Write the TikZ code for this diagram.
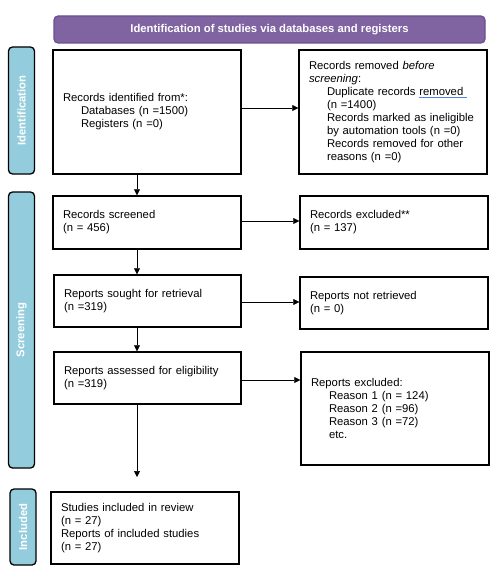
\documentclass[tikz,border=0pt]{standalone}
\usepackage{fontspec}
\setmainfont{Liberation Sans}
\usetikzlibrary{arrows.meta,calc}
\definecolor{bannerpurple}{HTML}{8064A2}
\definecolor{bannerline}{HTML}{6A5090}
\definecolor{sideblue}{HTML}{93CDDD}
\definecolor{spellblue}{HTML}{4F81E8}
\newcommand{\ind}{\hspace*{18pt}}
\newlength\spellw
\newcommand{\spellmark}[1]{\settowidth{\spellw}{#1}\rlap{\textcolor{spellblue}{\rule[-2.2pt]{\dimexpr\spellw+4pt\relax}{0.9pt}}}#1}
\begin{document}
\begin{tikzpicture}[x=1pt,y=-1pt,
  box/.style={draw=black,line width=1.4pt,fill=white,align=left,inner xsep=10pt,inner ysep=0pt,
    font=\fontsize{11.3}{13}\selectfont,anchor=center},
  sidebar/.style={draw=black,line width=1.3pt,fill=sideblue,rounded corners=4pt,
    minimum width=26pt,inner sep=0pt},
  sidetext/.style={rotate=90,text=white,font=\fontsize{11.3}{13}\selectfont\bfseries},
  arr/.style={-{Triangle[length=6pt,width=6pt]},line width=0.7pt}]
\useasboundingbox (0,0) rectangle (497,572);
% banner
\node[draw=bannerline,line width=1.2pt,fill=bannerpurple,rounded corners=4pt,minimum width=431pt,minimum height=27pt,
  text=white,font=\fontsize{11.3}{13}\selectfont\bfseries] (banner) at (269.5,29.5) {Identification of studies via databases and registers};
% side bars
\node[sidebar,minimum height=127pt] (sideid) at (21.5,110.5) {};
\node[sidetext] at (sideid) {Identification};
\node[sidebar,minimum height=276pt] (sidescr) at (21.5,330) {};
\node[sidetext] at (sidescr) {Screening};
\node[sidebar,minimum height=76pt] (sideinc) at (23,527) {};
\node[sidetext] at (sideinc) {Included};
% boxes left
\node[box,text width=168pt,minimum height=124pt] (ident) at (147,112) {Records identified from*:\\\ind Databases (n =1500)\\\ind Registers (n =0)};
\node[box,text width=168pt,minimum height=53pt] (screen) at (147,222.5) {Records screened\\(n = 456)};
\node[box,text width=167pt,minimum height=52pt] (sought) at (147.5,301) {Reports sought for retrieval\\(n =319)};
\node[box,text width=167pt,minimum height=52pt] (assess) at (147.5,378) {Reports assessed for eligibility\\(n =319)};
\node[box,text width=168pt,minimum height=72pt] (incl) at (145,528) {Studies included in review\\(n = 27)\\Reports of included studies\\(n = 27)};
% boxes right
\node[box,text width=168pt,minimum height=124pt] (removed) at (393,112) {Records removed \textit{before}\\\textit{screening}:\\\ind Duplicate records \spellmark{removed}\\\ind (n =1400)\\\ind Records marked as ineligible\\\ind by automation tools (n =0)\\\ind Records removed for other\\\ind reasons (n =0)};
\node[box,text width=168pt,minimum height=53pt] (excl) at (394,222.5) {Records excluded**\\(n = 137)};
\node[box,text width=168pt,minimum height=52pt] (notret) at (394,303) {Reports not retrieved\\(n = 0)};
\node[box,text width=168pt,minimum height=113pt] (repexcl) at (395,408.5) {Reports excluded:\\\ind Reason 1 (n = 124)\\\ind Reason 2 (n =96)\\\ind Reason 3 (n =72)\\\ind etc.};
% arrows
\coordinate (tipend) at (137,477);
\draw[arr] (ident.east |- 0,108) -- (removed.west |- 0,108);
\draw[arr] (screen.east |- 0,221) -- (excl.west |- 0,221);
\draw[arr] (sought.east |- 0,302) -- (notret.west |- 0,302);
\draw[arr] (assess.east |- 0,380) -- (repexcl.west |- 0,380);
\draw[arr] (ident.south -| tipend) -- (screen.north -| tipend);
\draw[arr] (screen.south -| tipend) -- (sought.north -| tipend);
\draw[arr] (sought.south -| tipend) -- (assess.north -| tipend);
\draw[arr] (assess.south -| tipend) -- (tipend);
\end{tikzpicture}
\end{document}
